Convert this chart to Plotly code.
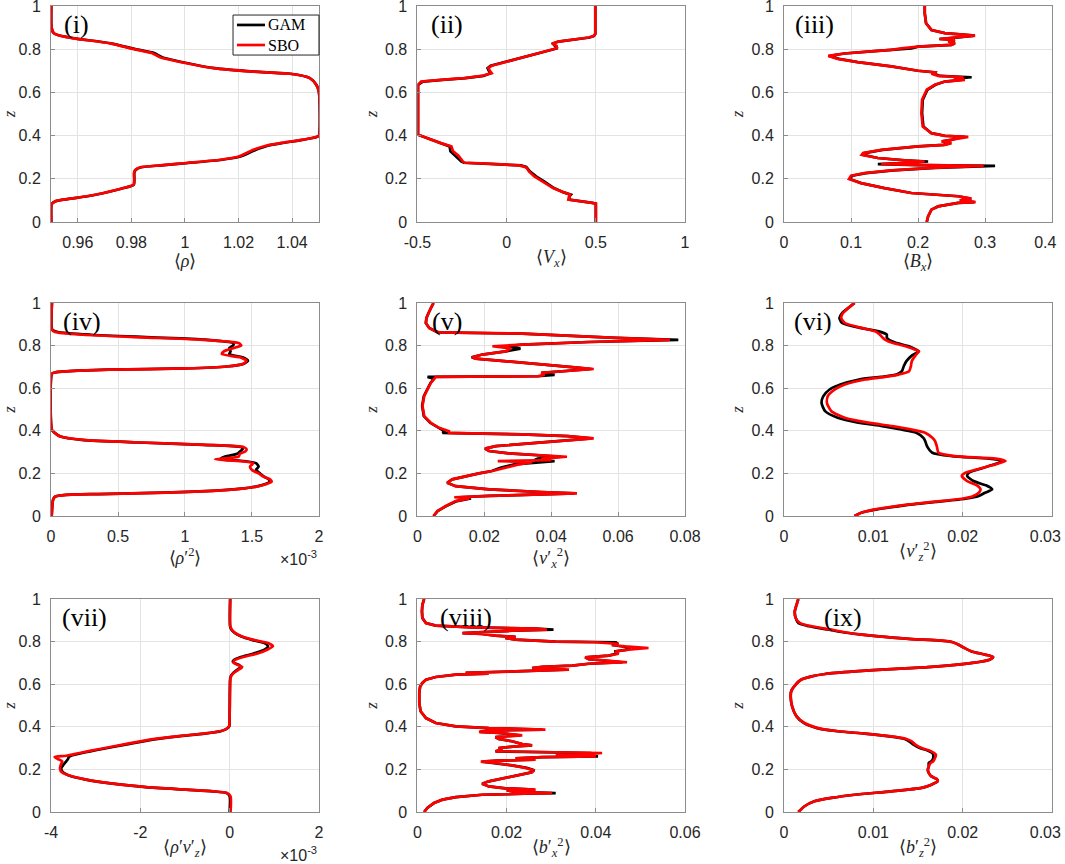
import plotly.graph_objects as go

# (i) mean density
z_rho = [0, 0.072, 0.085, 0.096, 0.106, 0.119, 0.134, 0.157, 0.173, 0.23, 0.242, 0.253, 0.262, 0.273,
         0.288, 0.303, 0.334, 0.354, 0.365, 0.38, 0.393, 0.40, 0.6, 0.635, 0.666, 0.686, 0.696, 0.712,
         0.735, 0.763, 0.782, 0.80, 0.827, 0.85, 0.863, 0.874, 0.9, 1.0]
rho_gam = [0.9501, 0.9501, 0.9504, 0.9517, 0.9562, 0.9636, 0.9698, 0.9772, 0.9809, 0.9811, 0.9817, 0.9836,
           0.9912, 1.0012, 1.0138, 1.0207, 1.0265, 1.0312, 1.0360, 1.0438, 1.0491, 1.050, 1.050, 1.049,
           1.0466, 1.0393, 1.0258, 1.0110, 1.0011, 0.9915, 0.9885, 0.9815, 0.9724, 0.9588, 0.9532, 0.951,
           0.9502, 0.9501]
rho_sbo = [0.9501, 0.9501, 0.9504, 0.9516, 0.956, 0.9634, 0.9696, 0.977, 0.9808, 0.981, 0.9815, 0.9833,
           0.9907, 1.0006, 1.0131, 1.020, 1.0255, 1.0305, 1.0355, 1.0435, 1.049, 1.050, 1.050, 1.049,
           1.0466, 1.0392, 1.0255, 1.0106, 1.0006, 0.9907, 0.9876, 0.981, 0.972, 0.9585, 0.953, 0.951,
           0.9502, 0.9501]

# (ii) mean horizontal velocity
z_vx = [0, 0.085, 0.088, 0.103, 0.119, 0.126, 0.137, 0.157, 0.188, 0.211, 0.234, 0.25, 0.255, 0.262,
        0.27, 0.274, 0.28, 0.291, 0.307, 0.327, 0.35, 0.365, 0.381, 0.396, 0.404, 0.635, 0.65, 0.658,
        0.666, 0.676, 0.689, 0.70, 0.712, 0.723, 0.735, 0.75, 0.766, 0.781, 0.794, 0.804, 0.815, 0.826,
        0.835, 0.843, 0.854, 0.861, 0.871, 1.0]
vx_gam = [0.5, 0.5, 0.48, 0.35, 0.352, 0.36, 0.32, 0.265, 0.21, 0.165, 0.13, 0.118, 0.11, 0.08, -0.1,
          -0.24, -0.255, -0.27, -0.29, -0.315, -0.32, -0.37, -0.43, -0.48, -0.497, -0.497, -0.47, -0.36,
          -0.23, -0.13, -0.09, -0.1, -0.107, -0.09, -0.035, 0.03, 0.11, 0.185, 0.24, 0.285, 0.27, 0.26,
          0.29, 0.37, 0.465, 0.49, 0.497, 0.497]
vx_sbo = [0.5, 0.5, 0.48, 0.346, 0.35, 0.36, 0.32, 0.26, 0.2, 0.155, 0.125, 0.113, 0.10, 0.07, -0.1,
          -0.235, -0.245, -0.255, -0.27, -0.30, -0.31, -0.37, -0.425, -0.48, -0.497, -0.497, -0.48, -0.37,
          -0.24, -0.14, -0.084, -0.094, -0.103, -0.084, -0.028, 0.028, 0.103, 0.178, 0.234, 0.281, 0.28,
          0.255, 0.29, 0.365, 0.459, 0.487, 0.497, 0.497]

# (iii) mean horizontal field
z_bx = [0, 0.026, 0.057, 0.072, 0.088, 0.092, 0.1, 0.108, 0.119, 0.134, 0.157, 0.18, 0.199, 0.214, 0.226,
        0.239, 0.25, 0.256, 0.26, 0.263, 0.268, 0.273, 0.28, 0.285, 0.296, 0.311, 0.319, 0.334, 0.35,
        0.357, 0.365, 0.373, 0.38, 0.388, 0.394, 0.399, 0.411, 0.442, 0.504, 0.565, 0.612, 0.635, 0.65,
        0.658, 0.664, 0.67, 0.676, 0.686, 0.692, 0.70, 0.72, 0.74, 0.755, 0.769, 0.78, 0.79, 0.797,
        0.804, 0.812, 0.82, 0.827, 0.835, 0.843, 0.847, 0.855, 0.863, 0.874, 0.889, 0.92, 0.966, 1.0]
bx_gam = [0.213, 0.215, 0.22, 0.23, 0.26, 0.284, 0.264, 0.278, 0.26, 0.19, 0.15, 0.115, 0.098, 0.102,
          0.122, 0.163, 0.225, 0.28, 0.315, 0.2, 0.14, 0.18, 0.215, 0.18, 0.14, 0.118, 0.12, 0.147, 0.2,
          0.238, 0.248, 0.237, 0.25, 0.258, 0.27, 0.24, 0.22, 0.208, 0.206, 0.207, 0.214, 0.226, 0.24,
          0.265, 0.255, 0.28, 0.232, 0.225, 0.226, 0.2, 0.16, 0.11, 0.082, 0.068, 0.09, 0.13, 0.16, 0.19,
          0.2, 0.25, 0.255, 0.247, 0.255, 0.232, 0.26, 0.285, 0.24, 0.22, 0.212, 0.21, 0.21]
bx_sbo = [0.213, 0.215, 0.22, 0.23, 0.26, 0.286, 0.262, 0.28, 0.26, 0.19, 0.15, 0.115, 0.097, 0.1, 0.12,
          0.16, 0.22, 0.27, 0.298, 0.22, 0.145, 0.18, 0.21, 0.18, 0.14, 0.116, 0.118, 0.145, 0.2, 0.24,
          0.25, 0.235, 0.25, 0.26, 0.275, 0.24, 0.22, 0.207, 0.205, 0.206, 0.213, 0.225, 0.24, 0.27,
          0.253, 0.268, 0.23, 0.22, 0.228, 0.2, 0.16, 0.11, 0.08, 0.066, 0.09, 0.13, 0.16, 0.175, 0.2,
          0.25, 0.255, 0.245, 0.255, 0.232, 0.26, 0.285, 0.24, 0.22, 0.212, 0.21, 0.21]

# (iv) density variance, units of 1e-3
z_rr = [0, 0.075, 0.091, 0.099, 0.103, 0.11, 0.118, 0.127, 0.138, 0.15, 0.161, 0.172, 0.185, 0.2, 0.216,
        0.232, 0.248, 0.26, 0.266, 0.279, 0.292, 0.303, 0.313, 0.323, 0.334, 0.345, 0.357, 0.373, 0.389,
        0.404, 0.668, 0.674, 0.679, 0.687, 0.693, 0.702, 0.715, 0.729, 0.745, 0.76, 0.773, 0.788, 0.801,
        0.812, 0.828, 0.839, 0.851, 0.864, 0.875, 1.0]
rr_gam = [0.005, 0.015, 0.03, 0.11, 0.35, 0.84, 1.2, 1.4, 1.53, 1.6, 1.635, 1.625, 1.59, 1.56, 1.53, 1.55,
          1.53, 1.40, 1.26, 1.30, 1.39, 1.41, 1.43, 1.42, 1.14, 0.65, 0.23, 0.07, 0.03, 0.007, 0.007, 0.03,
          0.11, 0.42, 1.0, 1.31, 1.44, 1.47, 1.43, 1.33, 1.34, 1.33, 1.36, 1.36, 1.15, 0.75, 0.3, 0.05,
          0.01, 0.007]
rr_sbo = [0.005, 0.015, 0.03, 0.12, 0.37, 0.86, 1.21, 1.41, 1.535, 1.61, 1.647, 1.635, 1.585, 1.55, 1.50,
          1.485, 1.51, 1.36, 1.225, 1.40, 1.41, 1.45, 1.46, 1.44, 1.16, 0.67, 0.24, 0.07, 0.03, 0.007,
          0.007, 0.03, 0.12, 0.44, 1.01, 1.31, 1.436, 1.46, 1.41, 1.275, 1.29, 1.36, 1.42, 1.40, 1.11,
          0.666, 0.24, 0.03, 0.007, 0.007]

# (v) horizontal velocity variance
z_vxx = [0, 0.023, 0.047, 0.07, 0.083, 0.088, 0.094, 0.102, 0.106, 0.1125, 0.125, 0.14, 0.156, 0.172,
         0.1875, 0.2, 0.211, 0.227, 0.242, 0.253, 0.258, 0.2625, 0.269, 0.278, 0.284, 0.294, 0.305, 0.316,
         0.328, 0.34, 0.352, 0.364, 0.375, 0.383, 0.3875, 0.39, 0.398, 0.414, 0.4375, 0.469, 0.516, 0.5625,
         0.594, 0.625, 0.644, 0.653, 0.656, 0.6625, 0.672, 0.683, 0.69, 0.698, 0.711, 0.727, 0.739, 0.745,
         0.758, 0.773, 0.786, 0.797, 0.805, 0.817, 0.827, 0.836, 0.847, 0.856, 0.8625, 0.867, 0.883, 0.906,
         0.93, 0.953, 0.977, 1.0]
vxx_gam = [0.0048, 0.006, 0.0086, 0.0118, 0.016, 0.0125, 0.0214, 0.037, 0.047, 0.037, 0.0214, 0.0114,
           0.0089, 0.0104, 0.0144, 0.0184, 0.0222, 0.025, 0.029, 0.036, 0.041, 0.035, 0.036, 0.043, 0.038,
           0.0273, 0.0214, 0.0202, 0.0234, 0.0333, 0.045, 0.052, 0.045, 0.031, 0.015, 0.0075, 0.008, 0.0063,
           0.0038, 0.0019, 0.0014, 0.0019, 0.0029, 0.0039, 0.0049, 0.003, 0.036, 0.041, 0.037, 0.046, 0.052,
           0.047, 0.037, 0.0263, 0.0174, 0.0162, 0.0194, 0.0263, 0.0308, 0.027, 0.0313, 0.0512, 0.078,
           0.0594, 0.045, 0.0313, 0.006, 0.0054, 0.0035, 0.0025, 0.0027, 0.0033, 0.004, 0.0048]
vxx_sbo = [0.0048, 0.006, 0.0085, 0.0114, 0.0155, 0.011, 0.0214, 0.037, 0.0477, 0.037, 0.0214, 0.0114,
           0.0089, 0.0104, 0.0144, 0.0184, 0.0224, 0.0263, 0.0303, 0.0343, 0.024, 0.04, 0.037, 0.0447, 0.038,
           0.0273, 0.0214, 0.0202, 0.0234, 0.0333, 0.0452, 0.0527, 0.045, 0.0313, 0.0164, 0.0094, 0.0094,
           0.0065, 0.004, 0.002, 0.0015, 0.002, 0.003, 0.004, 0.005, 0.0055, 0.036, 0.038, 0.037, 0.046,
           0.0527, 0.047, 0.037, 0.0263, 0.0174, 0.0164, 0.0194, 0.0263, 0.028, 0.0224, 0.0313, 0.0512,
           0.0755, 0.0594, 0.045, 0.0313, 0.0065, 0.0055, 0.0035, 0.0025, 0.0027, 0.0033, 0.004, 0.0048]

# (vi) vertical velocity variance
z_vzz = [0, 0.016, 0.031, 0.05, 0.066, 0.081, 0.094, 0.109, 0.125, 0.144, 0.164, 0.188, 0.203, 0.219,
         0.238, 0.258, 0.269, 0.281, 0.297, 0.328, 0.352, 0.367, 0.391, 0.406, 0.422, 0.438, 0.461, 0.492,
         0.531, 0.563, 0.594, 0.617, 0.641, 0.653, 0.664, 0.68, 0.703, 0.727, 0.753, 0.773, 0.781, 0.797,
         0.813, 0.828, 0.839, 0.852, 0.867, 0.883, 0.906, 0.93, 0.953, 0.977, 1.0]
vzz_gam = [0.0079, 0.0087, 0.0104, 0.0135, 0.017, 0.0203, 0.0218, 0.0225, 0.0233, 0.0226, 0.0212, 0.0205,
           0.0207, 0.0218, 0.0232, 0.0245, 0.023, 0.0188, 0.0166, 0.016, 0.0158, 0.0156, 0.0148, 0.0131,
           0.011, 0.0083, 0.006, 0.0046, 0.0042, 0.0044, 0.0051, 0.0063, 0.0084, 0.0109, 0.0126, 0.0132,
           0.0134, 0.0137, 0.0143, 0.0151, 0.0148, 0.014, 0.0125, 0.0117, 0.0115, 0.0115, 0.0106, 0.0085,
           0.0065, 0.0062, 0.0065, 0.0072, 0.0079]
vzz_sbo = [0.0079, 0.0087, 0.0102, 0.0132, 0.0166, 0.0199, 0.0212, 0.0218, 0.022, 0.0216, 0.0205, 0.0199,
           0.0203, 0.0216, 0.0233, 0.0248, 0.0237, 0.0191, 0.0173, 0.0171, 0.0169, 0.0166, 0.0158, 0.0143,
           0.0121, 0.0094, 0.0068, 0.0053, 0.0048, 0.0049, 0.0057, 0.0068, 0.0091, 0.0113, 0.0128, 0.014,
           0.0142, 0.0143, 0.0147, 0.0151, 0.0147, 0.0136, 0.0121, 0.0113, 0.011, 0.0107, 0.0102, 0.0087,
           0.0068, 0.0064, 0.0066, 0.0072, 0.0079]

# (vii) density flux, units of 1e-3
z_rv = [0, 0.074, 0.089, 0.097, 0.105, 0.117, 0.133, 0.152, 0.171, 0.191, 0.207, 0.222, 0.238, 0.249,
        0.258, 0.264, 0.277, 0.296, 0.316, 0.34, 0.355, 0.368, 0.379, 0.39, 0.402, 0.465, 0.621, 0.637,
        0.653, 0.668, 0.681, 0.692, 0.70, 0.707, 0.715, 0.728, 0.743, 0.762, 0.778, 0.793, 0.808, 0.824,
        0.84, 0.856, 0.872, 1.0]
rv_gam = [0.0, 0.0, -0.07, -0.38, -0.98, -1.88, -2.62, -3.22, -3.6, -3.75, -3.77, -3.72, -3.66, -3.62,
          -3.6, -3.55, -3.3, -2.85, -2.33, -1.73, -1.15, -0.56, -0.2, -0.07, -0.01, 0.0, 0.01, 0.025, 0.08,
          0.17, 0.25, 0.2, 0.1, 0.07, 0.1, 0.25, 0.52, 0.78, 0.86, 0.78, 0.5, 0.26, 0.12, 0.04, 0.01, 0.01]
rv_sbo = [0.02, 0.02, -0.06, -0.36, -0.96, -1.86, -2.61, -3.21, -3.59, -3.78, -3.80, -3.78, -3.75, -3.85,
          -3.92, -3.66, -3.36, -2.91, -2.39, -1.79, -1.19, -0.59, -0.21, -0.075, -0.015, 0.0, 0.015, 0.03,
          0.09, 0.2, 0.28, 0.165, 0.09, 0.09, 0.13, 0.31, 0.61, 0.84, 0.97, 0.86, 0.54, 0.28, 0.13, 0.05,
          0.015, 0.015]

# (viii) horizontal field variance
z_bxx = [0, 0.019, 0.042, 0.058, 0.07, 0.081, 0.086, 0.089, 0.095, 0.102, 0.105, 0.111, 0.12, 0.133,
         0.144, 0.16, 0.175, 0.186, 0.196, 0.207, 0.219, 0.23, 0.236, 0.241, 0.246, 0.252, 0.258, 0.261,
         0.266, 0.271, 0.277, 0.282, 0.285, 0.293, 0.30, 0.308, 0.313, 0.319, 0.332, 0.343, 0.352, 0.36,
         0.371, 0.376, 0.382, 0.387, 0.394, 0.402, 0.418, 0.441, 0.473, 0.512, 0.559, 0.59, 0.606, 0.621,
         0.634, 0.645, 0.65, 0.653, 0.657, 0.662, 0.668, 0.676, 0.681, 0.687, 0.696, 0.703, 0.709, 0.718,
         0.726, 0.734, 0.743, 0.754, 0.762, 0.77, 0.778, 0.784, 0.789, 0.797, 0.80, 0.809, 0.817, 0.822,
         0.828, 0.836, 0.84, 0.845, 0.851, 0.856, 0.861, 0.867, 0.875, 0.887, 0.911, 0.942, 0.973, 1.0]
bxx_gam = [0.0015, 0.0022, 0.0037, 0.0056, 0.0086, 0.0145, 0.024, 0.031, 0.022, 0.02, 0.0262, 0.0197,
           0.016, 0.0145, 0.016, 0.0197, 0.0235, 0.0255, 0.0262, 0.0245, 0.0212, 0.0175, 0.0145, 0.018,
           0.026, 0.022, 0.028, 0.0405, 0.034, 0.036, 0.039, 0.024, 0.0175, 0.019, 0.0182, 0.022, 0.0257,
           0.0235, 0.0212, 0.0182, 0.0175, 0.023, 0.0182, 0.014, 0.016, 0.028, 0.016, 0.0086, 0.0041,
           0.0019, 0.0007, 0.0004, 0.0004, 0.0006, 0.0011, 0.0019, 0.0041, 0.0086, 0.0155, 0.0108, 0.0175,
           0.0235, 0.0332, 0.0257, 0.028, 0.0347, 0.0384, 0.046, 0.043, 0.0384, 0.0376, 0.0429, 0.0445,
           0.0444, 0.047, 0.0477, 0.046, 0.0436, 0.045, 0.0445, 0.031, 0.022, 0.0197, 0.022, 0.0175, 0.0145,
           0.0101, 0.0145, 0.0212, 0.0305, 0.0265, 0.0123, 0.0041, 0.0019, 0.0011, 0.001, 0.0011, 0.0015]
bxx_sbo = [0.0015, 0.0022, 0.0037, 0.0056, 0.0086, 0.0145, 0.0235, 0.0302, 0.022, 0.02, 0.0265, 0.0197,
           0.016, 0.0145, 0.016, 0.0197, 0.0235, 0.0257, 0.026, 0.0242, 0.0212, 0.0175, 0.0142, 0.018,
           0.0265, 0.022, 0.028, 0.04, 0.031, 0.0384, 0.0414, 0.0235, 0.0175, 0.019, 0.0182, 0.022, 0.0257,
           0.0235, 0.0212, 0.0182, 0.0175, 0.0235, 0.0182, 0.0138, 0.016, 0.0287, 0.016, 0.0086, 0.0041,
           0.0019, 0.0007, 0.0004, 0.0004, 0.0006, 0.0011, 0.0019, 0.0041, 0.0086, 0.016, 0.0108, 0.0175,
           0.0235, 0.034, 0.0257, 0.028, 0.0347, 0.0384, 0.047, 0.0429, 0.0384, 0.0376, 0.0429, 0.0451,
           0.0444, 0.0473, 0.0518, 0.0466, 0.0436, 0.0451, 0.0399, 0.031, 0.022, 0.0197, 0.022, 0.0175,
           0.0145, 0.0101, 0.0145, 0.0212, 0.029, 0.0265, 0.0123, 0.0041, 0.0019, 0.0011, 0.001, 0.0011,
           0.0015]

# (ix) vertical field variance
z_bzz = [0, 0.027, 0.05, 0.066, 0.081, 0.097, 0.113, 0.128, 0.144, 0.155, 0.167, 0.183, 0.199, 0.214,
         0.230, 0.238, 0.253, 0.269, 0.277, 0.29, 0.30, 0.316, 0.332, 0.343, 0.355, 0.368, 0.379, 0.394,
         0.418, 0.449, 0.496, 0.535, 0.567, 0.598, 0.621, 0.637, 0.648, 0.66, 0.671, 0.681, 0.70, 0.715,
         0.728, 0.739, 0.754, 0.77, 0.786, 0.798, 0.806, 0.812, 0.822, 0.833, 0.844, 0.856, 0.872, 0.887,
         0.911, 0.942, 0.973, 1.0]
bzz_gam = [0.0016, 0.0023, 0.0034, 0.0053, 0.0079, 0.012, 0.0154, 0.0165, 0.0172, 0.0171, 0.0165, 0.0162,
           0.0161, 0.0162, 0.0162, 0.0165, 0.0167, 0.0167, 0.0166, 0.016, 0.0152, 0.0145, 0.014, 0.0135,
           0.0118, 0.009, 0.006, 0.0037, 0.0022, 0.0014, 0.0009, 0.00075, 0.0008, 0.0013, 0.0019, 0.0031,
           0.0046, 0.0079, 0.012, 0.0165, 0.0211, 0.023, 0.0234, 0.0225, 0.021, 0.0202, 0.0195, 0.0188,
           0.0173, 0.0143, 0.0113, 0.0087, 0.0066, 0.005, 0.0028, 0.0016, 0.0013, 0.0012, 0.0014, 0.0016]
bzz_sbo = [0.0016, 0.0023, 0.0034, 0.0053, 0.0079, 0.012, 0.0154, 0.0165, 0.0172, 0.0171, 0.0165, 0.0162,
           0.0161, 0.0162, 0.0164, 0.0167, 0.0169, 0.017, 0.0168, 0.0162, 0.0154, 0.0147, 0.0143, 0.0137,
           0.012, 0.0091, 0.0061, 0.0038, 0.0023, 0.0014, 0.0009, 0.00075, 0.0008, 0.0013, 0.0019, 0.0031,
           0.0046, 0.0079, 0.012, 0.0165, 0.0211, 0.023, 0.0234, 0.0225, 0.021, 0.0202, 0.0195, 0.0188,
           0.0175, 0.0143, 0.0113, 0.0087, 0.0068, 0.0053, 0.0031, 0.0018, 0.0013, 0.0012, 0.0014, 0.0016]

series_names = ['GAM', 'SBO']
panel_labels = ['(i)', '(ii)', '(iii)', '(iv)', '(v)', '(vi)', '(vii)', '(viii)', '(ix)']
x_titles = ['⟨<i>ρ</i>⟩', '⟨<i>V<sub>x</sub></i>⟩', '⟨<i>B<sub>x</sub></i>⟩',
            '⟨<i>ρ</i>′<sup>2</sup>⟩', '⟨<i>v</i>′<sub><i>x</i></sub><sup>2</sup>⟩',
            '⟨<i>v</i>′<sub><i>z</i></sub><sup>2</sup>⟩', '⟨<i>ρ</i>′<i>v</i>′<sub><i>z</i></sub>⟩',
            '⟨<i>b</i>′<sub><i>x</i></sub><sup>2</sup>⟩', '⟨<i>b</i>′<sub><i>z</i></sub><sup>2</sup>⟩']
x_ranges = [[0.95, 1.05], [-0.5, 1], [0, 0.4], [0, 2], [0, 0.08], [0, 0.03], [-4, 2], [0, 0.06], [0, 0.03]]
x_tickvals = [[0.96, 0.98, 1, 1.02, 1.04], [-0.5, 0, 0.5, 1], [0, 0.1, 0.2, 0.3, 0.4],
              [0, 0.5, 1, 1.5, 2], [0, 0.02, 0.04, 0.06, 0.08], [0, 0.01, 0.02, 0.03],
              [-4, -2, 0, 2], [0, 0.02, 0.04, 0.06], [0, 0.01, 0.02, 0.03]]
x_ticktext = [['0.96', '0.98', '1', '1.02', '1.04'], ['-0.5', '0', '0.5', '1'],
              ['0', '0.1', '0.2', '0.3', '0.4\u00a0\u00a0\u00a0'], ['0', '0.5', '1', '1.5', '2'],
              ['0', '0.02', '0.04', '0.06', '0.08'], ['0', '0.01', '0.02', '0.03\u00a0\u00a0\u00a0'],
              ['-4', '-2', '0', '2'], ['0', '0.02', '0.04', '0.06'],
              ['0', '0.01', '0.02', '0.03\u00a0\u00a0\u00a0']]
z_tickvals = [0, 0.2, 0.4, 0.6, 0.8, 1]
z_ticktext = ['0', '0.2', '0.4', '0.6', '0.8', '1']
label_shift = [11, 12, 9, 10, 13, 8, 9, 21, 38]
smooth = [True, False, False, True, False, True, True, False, True]

profiles = [(z_rho, rho_gam, rho_sbo), (z_vx, vx_gam, vx_sbo), (z_bx, bx_gam, bx_sbo),
            (z_rr, rr_gam, rr_sbo), (z_vxx, vxx_gam, vxx_sbo), (z_vzz, vzz_gam, vzz_sbo),
            (z_rv, rv_gam, rv_sbo), (z_bxx, bxx_gam, bxx_sbo), (z_bzz, bzz_gam, bzz_sbo)]

cols = [(0.0479, 0.2995), (0.392, 0.6432), (0.7362, 0.9878)]
rows = [(0.7431, 0.9931), (0.4028, 0.6493), (0.0602, 0.3067)]

serif = 'Liberation Serif, Times New Roman, serif'
sans = 'Liberation Sans, Arial, sans-serif'
axis_grey = '#8c8c8c'
colors = ['black', '#ff0000']
lw = 2.7

fig = go.Figure()
layout = dict(width=1065, height=864, margin=dict(l=0, r=0, t=0, b=0), showlegend=False,
              paper_bgcolor='white', plot_bgcolor='white', annotations=[], shapes=[])

for k in range(9):
    n = '' if k == 0 else str(k + 1)
    z, gam, sbo = profiles[k]
    shape = dict(shape='spline', smoothing=0.6) if smooth[k] else dict(shape='linear')
    for name, xs, col in zip(series_names, [gam, sbo], colors):
        fig.add_trace(go.Scatter(x=xs, y=z, mode='lines', name=name,
                                 line=dict(color=col, width=lw, **shape), xaxis='x' + n, yaxis='y' + n))
    r, c = divmod(k, 3)
    layout['xaxis' + n] = dict(domain=cols[c], anchor='y' + n, range=x_ranges[k], automargin=False,
                               tickmode='array', tickvals=x_tickvals[k], ticktext=x_ticktext[k],
                               showgrid=True, gridcolor='#e3e3e3', zeroline=False, showline=True,
                               mirror=True, linecolor=axis_grey, linewidth=1, ticks='inside', ticklen=4,
                               tickcolor=axis_grey, ticklabelstandoff=6, ticklabeloverflow='allow',
                               tickfont=dict(family=sans, size=16, color='#262626'),
                               title=dict(text=x_titles[k], standoff=0,
                                          font=dict(family=serif, size=18, color='#262626')))
    layout['yaxis' + n] = dict(domain=rows[r], anchor='x' + n, range=[0, 1], automargin=False,
                               tickmode='array', tickvals=z_tickvals, ticktext=z_ticktext,
                               showgrid=True, gridcolor='#e3e3e3', zeroline=False, showline=True,
                               mirror=True, linecolor=axis_grey, linewidth=1, ticks='inside',
                               ticklen=4, tickcolor=axis_grey, ticklabelstandoff=6,
                               ticklabeloverflow='allow',
                               tickfont=dict(family=sans, size=16, color='#262626'),
                               title=dict(text='<i>z</i>', standoff=3,
                                          font=dict(family=serif, size=17, color='#262626')))
    layout['annotations'].append(dict(text=panel_labels[k], xref='x' + n + ' domain',
                                      yref='y' + n + ' domain', x=0, y=1, xanchor='left',
                                      yanchor='top', xshift=label_shift[k], yshift=-2,
                                      showarrow=False, font=dict(family=serif, size=26, color='black')))

# exponent labels under the scaled panels
for n in ['4', '7']:
    layout['annotations'].append(dict(text='×10<sup>-3</sup>', xref='x' + n + ' domain',
                                      yref='y' + n + ' domain', x=1, y=0, xanchor='right',
                                      yanchor='middle', yshift=-42, showarrow=False,
                                      font=dict(family=sans, size=16, color='#262626')))

# compact boxed legend in the top-right corner of panel (i)
layout['shapes'].append(dict(type='rect', xref='paper', yref='paper', x0=0.2188, x1=0.2995,
                             y0=0.9363, y1=0.9826, line=dict(color='#262626', width=1),
                             fillcolor='white', layer='above'))
for name, col, yl in zip(series_names, colors, [0.9711, 0.9479]):
    layout['shapes'].append(dict(type='line', xref='paper', yref='paper', x0=0.2225, x1=0.2488,
                                 y0=yl, y1=yl, line=dict(color=col, width=lw), layer='above'))
    layout['annotations'].append(dict(text=name, xref='paper', yref='paper', x=0.2495, y=yl,
                                      xanchor='left', yanchor='middle', showarrow=False,
                                      font=dict(family=serif, size=16, color='black')))

fig.update_layout(**layout)
# drop the page's default body margin so the figure sits at the window's corner
fig.write_html("out.html", config={'displayModeBar': False},
               post_script="document.body.style.margin='0px';")
